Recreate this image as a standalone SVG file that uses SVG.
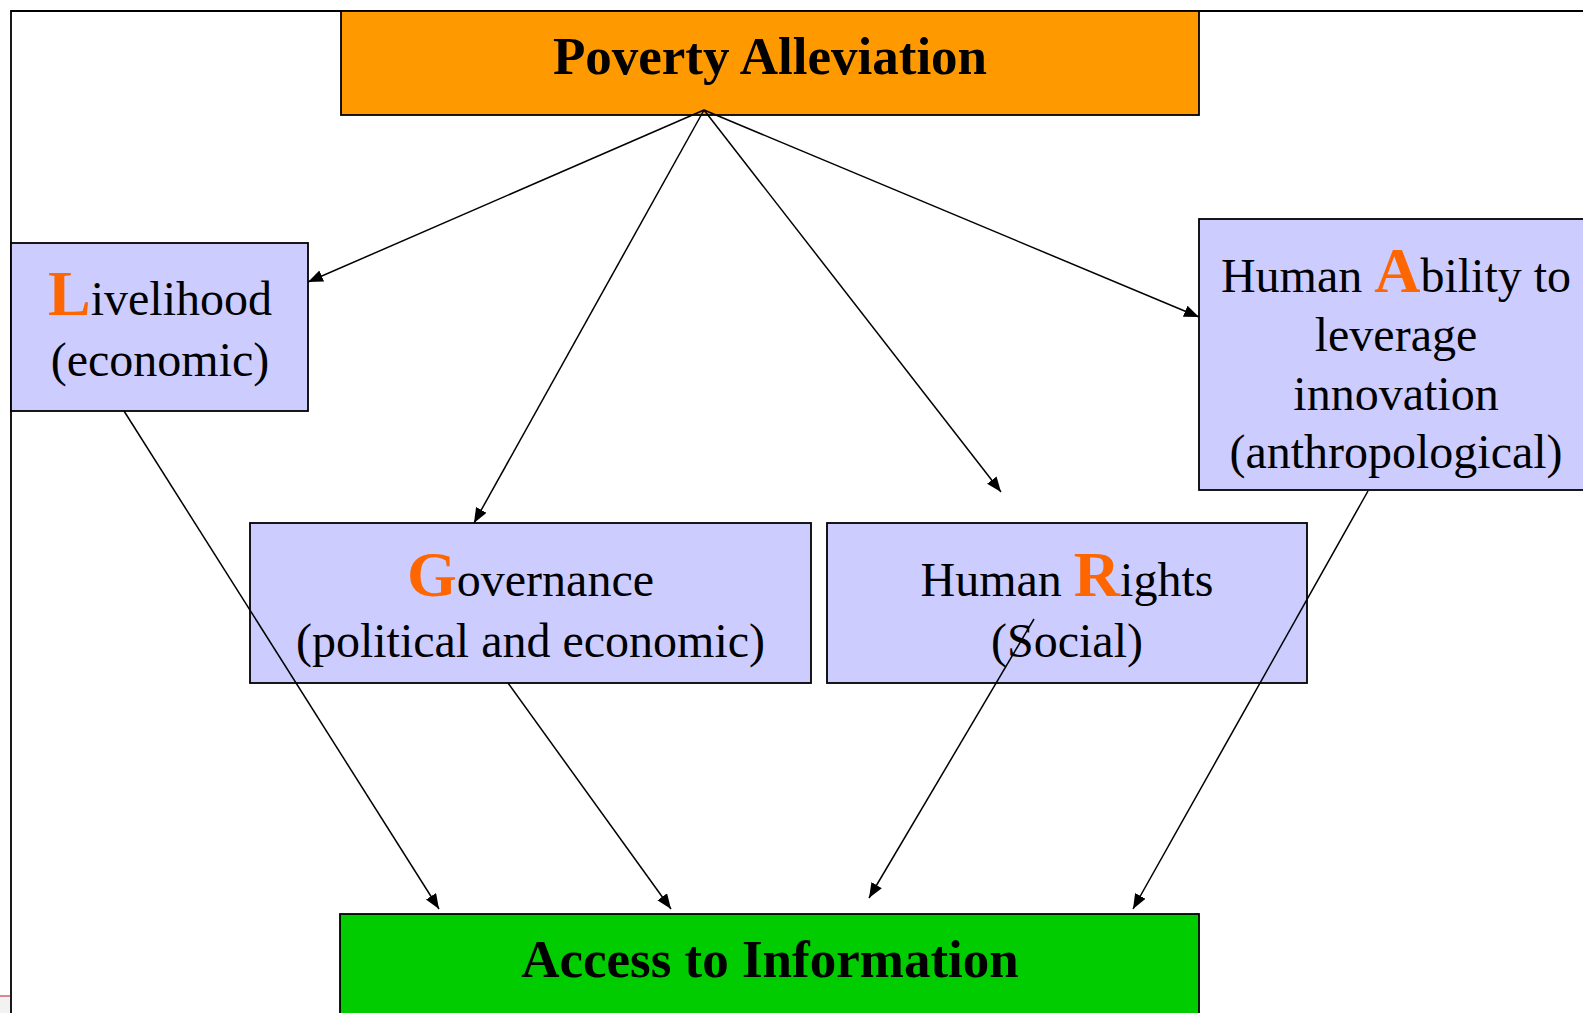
<svg xmlns="http://www.w3.org/2000/svg" width="1583" height="1013" viewBox="0 0 1583 1013">
<style>
.box{stroke:#000;stroke-width:1.8}
.blue{fill:#CCCCFF}
.t{font-family:"Liberation Serif","Times New Roman",serif;font-size:48px;fill:#000;text-anchor:middle}
.title{font-family:"Liberation Serif","Times New Roman",serif;font-size:53px;font-weight:bold;fill:#000;text-anchor:middle}
.big{font-size:64px;font-weight:bold;fill:#FF6600}
.conn line{stroke:#000;stroke-width:1.5;marker-end:url(#ah)}
</style>
<defs>
<marker id="ah" markerUnits="userSpaceOnUse" markerWidth="16" markerHeight="13" refX="15" refY="6" orient="auto">
<path d="M0,0 L15,6 L0,12 z" fill="#000"/>
</marker>
</defs>
<rect width="1583" height="1013" fill="#fff"/>
<g id="frame">
<path d="M11,1013 V11 H1583" fill="none" stroke="#000" stroke-width="1.8"/>
<rect x="0" y="997" width="10" height="16" fill="#f2f2f2"/>
<line x1="0" y1="996" x2="10" y2="996" stroke="#d06070" stroke-width="1.5"/>
</g>
<g id="poverty">
<rect class="box" x="341" y="11" width="858" height="104" fill="#FF9900"/>
<text class="title" x="770" y="74">Poverty Alleviation</text>
</g>
<g id="livelihood">
<rect class="box blue" x="11" y="243" width="297" height="168"/>
<text class="t" x="160" y="315"><tspan class="big">L</tspan>ivelihood</text>
<text class="t" x="160" y="376">(economic)</text>
</g>
<g id="ability">
<rect class="box blue" x="1199" y="219" width="396" height="271"/>
<text class="t" x="1396" y="292">Human <tspan class="big">A</tspan>bility to</text>
<text class="t" x="1396" y="351">leverage</text>
<text class="t" x="1396" y="409.5">innovation</text>
<text class="t" x="1396" y="468">(anthropological)</text>
</g>
<g id="governance">
<rect class="box blue" x="250" y="523" width="561" height="160"/>
<text class="t" x="530.5" y="596"><tspan class="big">G</tspan>overnance</text>
<text class="t" x="530.5" y="657">(political and economic)</text>
</g>
<g id="rights">
<rect class="box blue" x="827" y="523" width="480" height="160"/>
<text class="t" x="1067" y="596">Human <tspan class="big">R</tspan>ights</text>
<text class="t" x="1067" y="657">(Social)</text>
</g>
<g id="access">
<rect class="box" x="340" y="914" width="859" height="110" fill="#00CC00"/>
<text class="title" x="770" y="977">Access to Information</text>
</g>
<g id="connectors" class="conn">
<line x1="704" y1="110" x2="308" y2="282"/>
<line x1="704" y1="110" x2="474" y2="523"/>
<line x1="704" y1="110" x2="1001" y2="492"/>
<line x1="704" y1="110" x2="1199" y2="317"/>
<line x1="124" y1="411" x2="439" y2="909"/>
<line x1="508" y1="683" x2="671" y2="909"/>
<line x1="1034" y1="619" x2="869" y2="898"/>
<line x1="1368" y1="491" x2="1133" y2="909"/>
</g>
</svg>
